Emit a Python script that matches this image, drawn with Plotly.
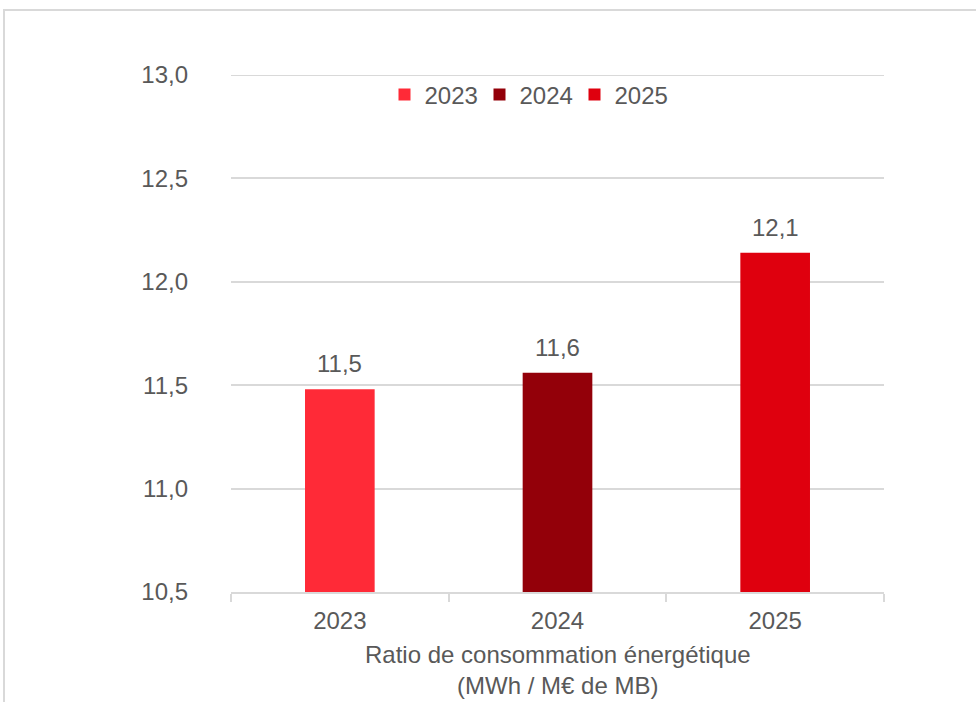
import plotly.graph_objects as go

categories = ["2023", "2024", "2025"]
values = [11.48, 11.56, 12.14]
labels = ["11,5", "11,6", "12,1"]
series_names = ["2023", "2024", "2025"]
colors = ["#FF2A37", "#930009", "#DF000E"]
y_ticks = [10.5, 11.0, 11.5, 12.0, 12.5, 13.0]
x_title = "Ratio de consommation énergétique<br>(MWh / M€ de MB)"

FONT = "Liberation Sans, Arial, sans-serif"
GREY = "#595959"
GRID = "#D9D9D9"
FS = 24

L, T, PW, PH = 231, 75, 653, 517
W, H = 976, 702

fig = go.Figure()
for i, name in enumerate(series_names):
    fig.add_trace(go.Bar(
        x=[categories[i]], y=[values[i]], name=name,
        marker=dict(color=colors[i], line=dict(width=0)),
        width=0.32, hoverinfo="skip",
    ))

annotations = []
for idx, (v, lab) in enumerate(zip(values, labels)):
    annotations.append(dict(x=idx, y=v, xref="x", yref="y", text=lab, showarrow=False,
                            yanchor="bottom", yshift=10,
                            font=dict(family=FONT, size=FS, color=GREY)))
annotations.append(dict(x=0.5, xref="paper", y=(T + PH - 670) / PH, yref="paper",
                        text=x_title, showarrow=False, xanchor="center", yanchor="middle",
                        font=dict(family=FONT, size=FS, color=GREY)))

fig.update_layout(
    width=W, height=H,
    margin=dict(l=L, r=W - L - PW, t=T, b=H - T - PH),
    paper_bgcolor="white", plot_bgcolor="white",
    barmode="overlay",
    separators=",.",
    font=dict(family=FONT, size=FS, color=GREY),
    showlegend=True,
    legend=dict(orientation="h", x=(527 - L) / PW, xanchor="center",
                y=1 - (95 - T) / PH, yanchor="middle",
                font=dict(family=FONT, size=FS, color=GREY), bgcolor="rgba(0,0,0,0)",
                itemwidth=30, traceorder="normal",
                entrywidthmode="pixels", entrywidth=50),
    xaxis=dict(
        type="category", categoryorder="array", categoryarray=categories,
        range=[-0.5, len(categories) - 0.5], autorange=False,
        showline=True, linecolor=GRID, linewidth=2,
        ticks="outside", tickson="boundaries", ticklen=8, tickcolor=GRID, tickwidth=2,
        tickfont=dict(family=FONT, size=FS, color=GREY),
        ticklabelstandoff=6, tickangle=0,
        showgrid=False,
    ),
    yaxis=dict(
        range=[y_ticks[0], y_ticks[-1]], autorange=False, tickvals=y_ticks, tickformat=".1f",
        showgrid=True, gridcolor=GRID, gridwidth=2,
        zeroline=False, showline=False,
        tickfont=dict(family=FONT, size=FS, color=GREY),
        ticklabelstandoff=42,
    ),
    annotations=annotations,
    shapes=[
        dict(type="line", xref="paper", yref="y", x0=0, x1=1, y0=y_ticks[-1], y1=y_ticks[-1],
             line=dict(color=GRID, width=2), layer="below"),
        dict(type="rect", xref="paper", yref="paper",
             x0=(4 - L) / PW, x1=1.3, y0=-0.3, y1=1 + (T - 10) / PH,
             line=dict(color=GRID, width=2), fillcolor="rgba(0,0,0,0)", layer="below"),
    ],
)

fig.write_html("out.html", config={"displayModeBar": False},
               post_script="document.body.style.margin='0';")
